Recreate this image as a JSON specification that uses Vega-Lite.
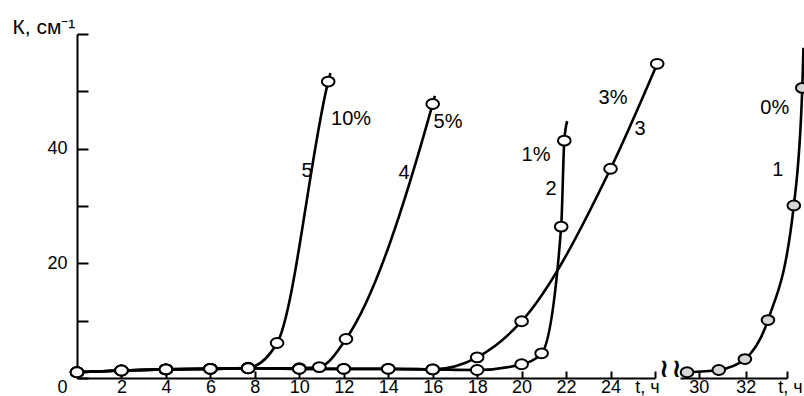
{
  "$schema": "https://vega.github.io/schema/vega-lite/v6.json",
  "width": 727,
  "height": 344,
  "autosize": {"type": "none"},
  "padding": {"left": 77, "top": 34, "right": 0, "bottom": 18},
  "background": "white",
  "config": {
    "view": {"stroke": null},
    "font": "Liberation Sans",
    "axis": {
      "domainColor": "black",
      "domainWidth": 2,
      "tickColor": "black",
      "tickWidth": 2,
      "labelColor": "black",
      "labelFont": "Liberation Sans",
      "labelFontSize": 18,
      "grid": false,
      "labelFlush": false,
      "labelOverlap": false
    }
  },
  "datasets": {
    "curves": [
      {"curve": "5", "panel": "A", "t": 0, "K": 1.0, "measured": true},
      {"curve": "5", "panel": "A", "t": 2, "K": 1.3, "measured": true},
      {"curve": "5", "panel": "A", "t": 4, "K": 1.5, "measured": true},
      {"curve": "5", "panel": "A", "t": 6, "K": 1.6, "measured": true},
      {"curve": "5", "panel": "A", "t": 7.7, "K": 1.8, "measured": true},
      {"curve": "5", "panel": "A", "t": 9.0, "K": 6.1, "measured": true},
      {"curve": "5", "panel": "A", "t": 11.3, "K": 51.7, "measured": true},
      {"curve": "5", "panel": "A", "t": 11.4, "K": 53.2, "measured": false},
      {"curve": "4", "panel": "A", "t": 0, "K": 1.0, "measured": true},
      {"curve": "4", "panel": "A", "t": 2, "K": 1.3, "measured": true},
      {"curve": "4", "panel": "A", "t": 4, "K": 1.5, "measured": true},
      {"curve": "4", "panel": "A", "t": 6, "K": 1.6, "measured": true},
      {"curve": "4", "panel": "A", "t": 7.7, "K": 1.7, "measured": true},
      {"curve": "4", "panel": "A", "t": 10, "K": 1.7, "measured": true},
      {"curve": "4", "panel": "A", "t": 10.9, "K": 1.9, "measured": true},
      {"curve": "4", "panel": "A", "t": 12.1, "K": 6.8, "measured": true},
      {"curve": "4", "panel": "A", "t": 16.0, "K": 47.8, "measured": true},
      {"curve": "4", "panel": "A", "t": 16.1, "K": 49.2, "measured": false},
      {"curve": "3", "panel": "A", "t": 0, "K": 1.0, "measured": true},
      {"curve": "3", "panel": "A", "t": 2, "K": 1.3, "measured": true},
      {"curve": "3", "panel": "A", "t": 4, "K": 1.5, "measured": true},
      {"curve": "3", "panel": "A", "t": 6, "K": 1.6, "measured": true},
      {"curve": "3", "panel": "A", "t": 7.7, "K": 1.7, "measured": true},
      {"curve": "3", "panel": "A", "t": 10, "K": 1.6, "measured": true},
      {"curve": "3", "panel": "A", "t": 12, "K": 1.6, "measured": true},
      {"curve": "3", "panel": "A", "t": 14, "K": 1.6, "measured": true},
      {"curve": "3", "panel": "A", "t": 16, "K": 1.5, "measured": true},
      {"curve": "3", "panel": "A", "t": 18, "K": 3.6, "measured": true},
      {"curve": "3", "panel": "A", "t": 20, "K": 9.9, "measured": true},
      {"curve": "3", "panel": "A", "t": 24, "K": 36.5, "measured": true},
      {"curve": "3", "panel": "A", "t": 26.1, "K": 54.8, "measured": true},
      {"curve": "2", "panel": "A", "t": 0, "K": 1.0, "measured": true},
      {"curve": "2", "panel": "A", "t": 2, "K": 1.3, "measured": true},
      {"curve": "2", "panel": "A", "t": 4, "K": 1.5, "measured": true},
      {"curve": "2", "panel": "A", "t": 6, "K": 1.6, "measured": true},
      {"curve": "2", "panel": "A", "t": 7.7, "K": 1.7, "measured": true},
      {"curve": "2", "panel": "A", "t": 10, "K": 1.6, "measured": true},
      {"curve": "2", "panel": "A", "t": 12, "K": 1.6, "measured": true},
      {"curve": "2", "panel": "A", "t": 14, "K": 1.6, "measured": true},
      {"curve": "2", "panel": "A", "t": 16, "K": 1.5, "measured": true},
      {"curve": "2", "panel": "A", "t": 18, "K": 1.4, "measured": true},
      {"curve": "2", "panel": "A", "t": 20, "K": 2.4, "measured": true},
      {"curve": "2", "panel": "A", "t": 20.9, "K": 4.3, "measured": true},
      {"curve": "2", "panel": "A", "t": 21.78, "K": 26.4, "measured": true},
      {"curve": "2", "panel": "A", "t": 21.92, "K": 41.4, "measured": true},
      {"curve": "2", "panel": "A", "t": 22.05, "K": 44.8, "measured": false},
      {"curve": "1", "panel": "B", "t": 29.5, "K": 1.0, "measured": true},
      {"curve": "1", "panel": "B", "t": 30.85, "K": 1.4, "measured": true},
      {"curve": "1", "panel": "B", "t": 31.96, "K": 3.3, "measured": true},
      {"curve": "1", "panel": "B", "t": 32.94, "K": 10.1, "measured": true},
      {"curve": "1", "panel": "B", "t": 34.04, "K": 30.1, "measured": true},
      {"curve": "1", "panel": "B", "t": 34.4, "K": 50.6, "measured": true},
      {"curve": "1", "panel": "B", "t": 34.45, "K": 57.6, "measured": false}
    ],
    "labels": [
      {"panel": "A", "t": 12.33, "K": 45.2, "text": "10%"},
      {"panel": "A", "t": 10.35, "K": 36.1, "text": "5"},
      {"panel": "A", "t": 14.71, "K": 35.8, "text": "4"},
      {"panel": "A", "t": 16.69, "K": 44.7, "text": "5%"},
      {"panel": "A", "t": 24.11, "K": 48.8, "text": "3%"},
      {"panel": "A", "t": 25.33, "K": 43.4, "text": "3"},
      {"panel": "A", "t": 20.65, "K": 38.9, "text": "1%"},
      {"panel": "A", "t": 21.32, "K": 33.0, "text": "2"},
      {"panel": "B", "t": 33.23, "K": 47.1, "text": "0%"},
      {"panel": "B", "t": 33.36, "K": 36.3, "text": "1"}
    ],
    "breaks": [
      {"panel": "A", "t": 26.4, "K": 1.6},
      {"panel": "B", "t": 29.05, "K": 1.6}
    ]
  },
  "resolve": {"scale": {"x": "independent"}, "axis": {"x": "independent"}},
  "layer": [
    {
      "encoding": {
        "x": {
          "field": "t", "type": "quantitative",
          "scale": {"domain": [0, 26], "range": [0, 578]},
          "axis": {
            "orient": "bottom",
            "title": null,
            "values": [2, 4, 6, 8, 10, 12, 14, 16, 18, 20, 22, 24, 26],
            "tickSize": -7,
            "labelPadding": 7,
            "labelExpr": "datum.value == 26 ? 't, ч' : datum.label",
            "labelOffset": {"condition": {"test": "datum.value == 26", "value": -8}, "value": 0}
          }
        },
        "y": {
          "field": "K", "type": "quantitative",
          "scale": {"domain": [0, 60]},
          "axis": {
            "values": [0, 10, 20, 30, 40, 50, 60],
            "tickSize": -11,
            "labelPadding": 21,
            "labelExpr": "datum.value == 0 || datum.value == 20 || datum.value == 40 ? datum.label : ''",
            "labelBaseline": {"condition": {"test": "datum.value == 0", "value": "top"}, "value": "middle"},
            "title": "К, см⁻¹",
            "titleAngle": 0,
            "titleAlign": "left",
            "titleBaseline": "alphabetic",
            "titleX": -65,
            "titleY": -1,
            "titleFontSize": 21,
            "titleFontWeight": "normal",
            "titleColor": "black",
            "titleFont": "Liberation Sans"
          }
        }
      },
      "layer": [
        {
          "data": {"name": "curves"},
          "transform": [{"filter": "datum.panel === 'A'"}],
          "mark": {"type": "line", "interpolate": "monotone", "stroke": "black", "strokeWidth": 2.6, "clip": false},
          "encoding": {"detail": {"field": "curve"}}
        },
        {
          "data": {"name": "curves"},
          "transform": [{"filter": "datum.panel === 'A' && datum.measured"}],
          "mark": {"type": "point", "shape": "M-1,0A1,0.78 0 1,0 1,0A1,0.78 0 1,0 -1,0Z", "size": 160, "filled": true, "fill": "white", "stroke": "black", "strokeWidth": 2, "opacity": 1, "clip": false}
        },
        {
          "data": {"name": "labels"},
          "transform": [{"filter": "datum.panel === 'A'"}],
          "mark": {"type": "text", "fontSize": 20, "font": "Liberation Sans", "color": "black", "align": "center", "baseline": "middle"},
          "encoding": {"text": {"field": "text"}}
        },
        {
          "data": {"name": "breaks"},
          "transform": [{"filter": "datum.panel === 'A'"}],
          "mark": {"type": "text", "text": "≀", "fontSize": 26, "font": "DejaVu Sans", "fontWeight": "bold", "color": "black", "align": "center", "baseline": "middle", "clip": false}
        }
      ]
    },
    {
      "encoding": {
        "x": {
          "field": "t", "type": "quantitative",
          "scale": {"domain": [29.2, 33.75], "range": [603, 710]},
          "axis": {
            "orient": "bottom",
            "title": null,
            "values": [30, 32, 33.75],
            "tickSize": -7,
            "labelPadding": 7,
            "labelExpr": "datum.value > 33 ? 't, ч' : datum.label",
            "labelOffset": {"condition": {"test": "datum.value > 33", "value": 3}, "value": 0}
          }
        },
        "y": {
          "field": "K", "type": "quantitative",
          "scale": {"domain": [0, 60]}
        }
      },
      "layer": [
        {
          "data": {"name": "curves"},
          "transform": [{"filter": "datum.panel === 'B'"}],
          "mark": {"type": "line", "interpolate": "monotone", "stroke": "black", "strokeWidth": 2.6, "clip": false},
          "encoding": {"detail": {"field": "curve"}}
        },
        {
          "data": {"name": "curves"},
          "transform": [{"filter": "datum.panel === 'B' && datum.measured"}],
          "mark": {"type": "point", "shape": "M-1,0A1,0.78 0 1,0 1,0A1,0.78 0 1,0 -1,0Z", "size": 160, "filled": true, "fill": "#d6d6d6", "stroke": "black", "strokeWidth": 2, "opacity": 1, "clip": false}
        },
        {
          "data": {"name": "labels"},
          "transform": [{"filter": "datum.panel === 'B'"}],
          "mark": {"type": "text", "fontSize": 20, "font": "Liberation Sans", "color": "black", "align": "center", "baseline": "middle"},
          "encoding": {"text": {"field": "text"}}
        },
        {
          "data": {"name": "breaks"},
          "transform": [{"filter": "datum.panel === 'B'"}],
          "mark": {"type": "text", "text": "≀", "fontSize": 26, "font": "DejaVu Sans", "fontWeight": "bold", "color": "black", "align": "center", "baseline": "middle", "clip": false}
        }
      ]
    }
  ]
}
